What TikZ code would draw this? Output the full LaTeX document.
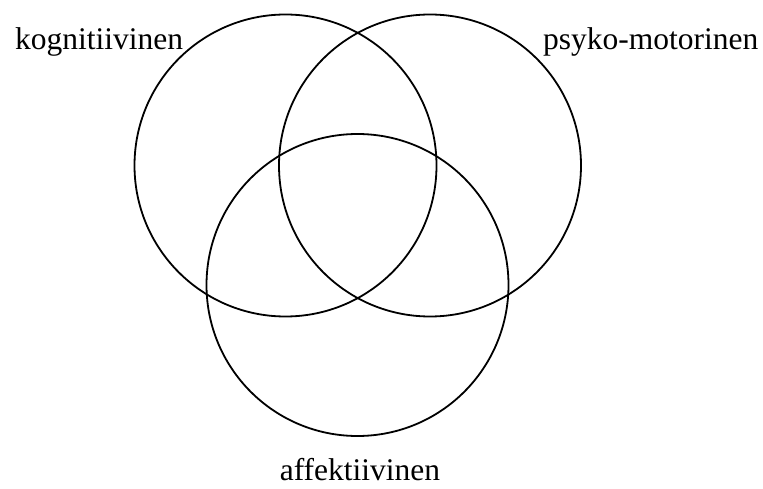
\documentclass[tikz,border=0pt]{standalone}
\usepackage{fontspec}
\setmainfont{Liberation Serif}
\begin{document}
\begin{tikzpicture}[x=1pt,y=-1pt,
  ring/.style={circle,draw=black,line width=1.8pt,minimum size=302pt,inner sep=0pt,outer sep=0pt},
  lbl/.style={inner sep=0pt,font=\fontsize{31.5}{34}\selectfont}]
\useasboundingbox (0,0) rectangle (763,489);
\node[ring] (kog) at (285.5,165.5) {};
\node[ring] (psy) at (430,165.5) {};
\node[ring] (aff) at (357.5,285) {};
\node[lbl,anchor=base west] (tk) at (15,50) {kognitiivinen};
\node[lbl,anchor=base west] (tp) at (543,50) {psyko-motorinen};
\node[lbl,anchor=base] (ta) at (360,480) {affektiivinen};
\end{tikzpicture}
\end{document}
